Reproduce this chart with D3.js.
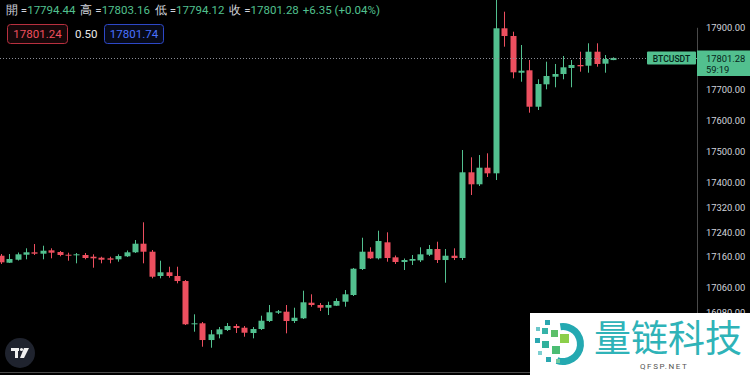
<!DOCTYPE html>
<html>
<head>
<meta charset="utf-8">
<script src="https://cdn.jsdelivr.net/npm/d3@7/dist/d3.min.js"></script>
<style>
  html, body { margin: 0; padding: 0; background: #000; }
  svg { display: block; }
  text { font-family: Roboto, "Noto Sans", sans-serif; }
</style>
</head>
<body>
<script>
// candle values (BTCUSDT), oldest first
const opens  = [17163.7,17141.1,17150.8,17166.9,17174.7,17170.2,17181.1,17175.6,17166.9,17166.0,
                17166.0,17160.5,17157.3,17155.3,17152.1,17161.8,17174.7,17202.4,17176.6,17098.3,
                17110.2,17098.3,17082.1,16942.6,16945.8,16891.9,16910.3,16924.2,16937.1,16931.6,
                16914.5,16927.4,16953.2,16980.0,16983.2,16953.2,16961.9,17012.2,17004.8,16996.1,
                17002.5,17015.4,17037.0,17120.8,17176.6,17155.3,17206.9,17158.5,17143.4,17147.6,
                17148.9,17166.9,17185.3,17149.8,17163.7,17156.3,17432.6,17393.9,17447.4,17429.3,
                17896.8,17871.9,17753.6,17761.4,17644.0,17716.2,17740.7,17749.4,17768.8,17778.5,
                17776.2,17821.3,17782.7,17794.44];
const highs  = [17169.2,17169.2,17174.0,17187.6,17201.4,17195.9,17187.6,17178.9,17173.4,17172.4,
                17172.4,17168.2,17160.5,17160.5,17168.2,17180.5,17214.3,17271.4,17182.1,17147.6,
                17128.2,17128.2,17085.4,16974.8,16950.0,16924.2,16933.8,16946.7,16943.5,16937.1,
                16933.8,16970.3,17004.8,16988.7,17004.8,16996.1,17050.9,17039.3,17011.2,17015.4,
                17026.4,17053.1,17124.1,17221.7,17190.8,17244.3,17239.1,17164.3,17154.7,17166.0,
                17190.8,17198.2,17208.8,17185.3,17187.6,17504.4,17480.9,17488.3,17493.8,17994.0,
                17950.3,17885.8,17842.9,17794.6,17732.4,17789.1,17781.7,17807.5,17794.6,17821.3,
                17848.4,17848.4,17810.7,17803.16];
const lows   = [17136.9,17140.2,17148.2,17152.1,17166.0,17152.1,17155.3,17161.8,17147.6,17139.2,
                17152.1,17125.0,17139.2,17139.2,17144.4,17159.5,17172.4,17139.2,17090.8,17090.8,
                17092.8,17074.7,16940.3,16918.7,16870.3,16867.1,16897.4,16921.0,16914.5,16902.6,
                16897.4,16924.2,16950.0,16975.8,16913.5,16946.7,16959.6,16999.3,16985.4,16972.5,
                17001.5,16999.3,17033.8,17117.6,17153.1,17151.5,17144.4,17137.0,17117.6,17133.7,
                17143.4,17162.7,17140.2,17076.7,17149.8,17149.8,17359.4,17388.4,17417.4,17407.7,
                17837.5,17735.6,17724.6,17624.7,17633.4,17700.1,17706.6,17732.4,17706.6,17756.9,
                17753.6,17773.0,17753.6,17794.12];
const closes = [17142.4,17153.1,17168.2,17174.7,17170.2,17179.8,17173.4,17166.0,17165.0,17168.2,
                17156.3,17155.3,17150.8,17150.8,17162.7,17174.7,17202.4,17176.6,17096.0,17110.2,
                17098.3,17082.1,16942.6,16945.8,16891.9,16910.3,16926.4,16937.1,16930.6,16915.5,
                16927.4,16954.2,16981.3,16984.5,16953.2,16963.8,17013.5,17004.8,16996.1,17004.8,
                17017.7,17039.3,17121.8,17176.6,17155.3,17211.1,17156.3,17143.4,17149.8,17153.1,
                17168.2,17185.3,17149.8,17163.7,17156.3,17432.6,17393.9,17447.4,17429.3,17896.8,
                17871.9,17754.9,17760.1,17644.0,17717.2,17743.0,17749.4,17771.0,17778.5,17774.3,
                17821.3,17781.7,17797.8,17801.28];

// price axis tick values shown on the right
const priceTicks = [18000, 17900, 17700, 17600, 17500, 17400, 17320, 17240, 17160, 17060, 16980];

// legend (OHLC header)
const ohlcLabels = ["開", "高", "低", "收"];
const ohlcValues = ["17794.44", "17803.16", "17794.12", "17801.28"];
const change = "+6.35 (+0.04%)";
const bid = "17801.24", spread = "0.50", ask = "17801.74";
const symbol = "BTCUSDT", countdown = "59:19";

const W = 750, H = 375;
const axisX = 697;
const upColor = "#52c08f", downColor = "#ec4f5f";
const textColor = "#d1d4dc";

const svg = d3.select("body").append("svg")
    .attr("width", W)
    .attr("height", H);

svg.append("rect").attr("width", W).attr("height", H).attr("fill", "#000");

const data = opens.map((o, i) => ({ i, o, h: highs[i], l: lows[i], c: closes[i] }));

// scales
const x = d3.scaleLinear().domain([0, data.length - 1]).range([0.8, 613.3]);
const y = d3.scaleLinear().domain([16980, 17900]).range([312.7, 27.3]);
const bodyW = 6;

const plot = svg.append("g");

// wicks
plot.selectAll("line.wick")
  .data(data)
  .join("line")
    .attr("class", "wick")
    .attr("x1", d => Math.round(x(d.i)) + 0.5)
    .attr("x2", d => Math.round(x(d.i)) + 0.5)
    .attr("y1", d => y(d.h))
    .attr("y2", d => y(d.l))
    .attr("stroke", d => d.c >= d.o ? upColor : downColor)
    .attr("stroke-width", 1);

// bodies
plot.selectAll("rect.body")
  .data(data)
  .join("rect")
    .attr("class", "body")
    .attr("x", d => Math.round(x(d.i)) + 0.5 - bodyW / 2)
    .attr("width", bodyW)
    .attr("y", d => y(Math.max(d.o, d.c)))
    .attr("height", d => Math.max(1, Math.abs(y(d.o) - y(d.c))))
    .attr("fill", d => d.c >= d.o ? upColor : downColor);

// last price dotted line
const lastY = y(closes[closes.length - 1]);
svg.append("line")
    .attr("x1", 0).attr("x2", axisX)
    .attr("y1", Math.round(lastY) + 0.5).attr("y2", Math.round(lastY) + 0.5)
    .attr("stroke", "#8a8d96")
    .attr("stroke-width", 1)
    .attr("stroke-dasharray", "1,2");

// price axis
const axisG = svg.append("g").attr("transform", `translate(${axisX},0)`);
axisG.call(d3.axisRight(y).tickValues(priceTicks).tickSize(0).tickPadding(9).tickFormat(d3.format(".2f")));
axisG.select(".domain").attr("stroke", "#4a4a4a");
axisG.selectAll("text")
    .attr("fill", textColor)
    .style("font-size", "9.4px")
    .style("font-family", "Roboto, sans-serif");

// bottom border
svg.append("line")
    .attr("x1", 0).attr("x2", W)
    .attr("y1", 372.5).attr("y2", 372.5)
    .attr("stroke", "#4a4a4a");

// symbol tag + price label
svg.append("rect")
    .attr("x", 647).attr("y", 51.5).attr("width", 49).attr("height", 13)
    .attr("rx", 1).attr("fill", upColor);
svg.append("text")
    .attr("x", 671.5).attr("y", 61.5)
    .attr("text-anchor", "middle")
    .attr("fill", "#06251a")
    .style("font-size", "8.6px")
    .style("font-weight", "500")
    .text(symbol);
svg.append("rect")
    .attr("x", axisX).attr("y", 50.5).attr("width", W - axisX).attr("height", 25.5)
    .attr("fill", upColor);
svg.append("text")
    .attr("x", 706).attr("y", 62)
    .attr("fill", "#06251a")
    .style("font-size", "9.4px")
    .text(closes[closes.length - 1].toFixed(2));
svg.append("text")
    .attr("x", 706).attr("y", 73)
    .attr("fill", "#06251a")
    .style("font-size", "9.4px")
    .text(countdown);

// OHLC header
const header = svg.append("text").attr("x", 6).attr("y", 14).style("font-size", "11.5px");
ohlcLabels.forEach((lab, k) => {
  header.append("tspan").attr("fill", textColor).attr("dx", k === 0 ? 0 : 5).text(lab + " =");
  header.append("tspan").attr("fill", upColor).text(ohlcValues[k]);
});
header.append("tspan").attr("fill", upColor).attr("dx", 4).text(change);

// bid / spread / ask boxes
svg.append("rect")
    .attr("x", 7.5).attr("y", 24.5).attr("width", 60).attr("height", 19).attr("rx", 3)
    .attr("fill", "#150709").attr("stroke", "#b8303f");
svg.append("text")
    .attr("x", 37.5).attr("y", 38).attr("text-anchor", "middle")
    .attr("fill", "#f0505f").style("font-size", "11.5px").text(bid);
svg.append("text")
    .attr("x", 75).attr("y", 38)
    .attr("fill", "#e8e8e8").style("font-size", "11.5px").text(spread);
svg.append("rect")
    .attr("x", 104.5).attr("y", 24.5).attr("width", 59).attr("height", 19).attr("rx", 3)
    .attr("fill", "#070a18").attr("stroke", "#2d48c8");
svg.append("text")
    .attr("x", 134).attr("y", 38).attr("text-anchor", "middle")
    .attr("fill", "#4a73ff").style("font-size", "11.5px").text(ask);

// TradingView logo (bottom left)
const tv = svg.append("g").attr("transform", "translate(20,353)");
tv.append("circle").attr("r", 15).attr("fill", "#1f232e");
tv.append("rect").attr("x", -9).attr("y", -5).attr("width", 8).attr("height", 3).attr("fill", "#f0f0f0");
tv.append("rect").attr("x", -5).attr("y", -5).attr("width", 3).attr("height", 10).attr("fill", "#f0f0f0");
tv.append("circle").attr("cx", 1.5).attr("cy", -3.5).attr("r", 1.6).attr("fill", "#f0f0f0");
tv.append("path").attr("d", "M4,-5 L9,-5 L4,5 L0,5 Z").attr("fill", "#f0f0f0");

// watermark (bottom right)
const wm = svg.append("g");
wm.append("rect").attr("x", 530).attr("y", 313).attr("width", 220).attr("height", 62).attr("fill", "#ffffff");
const ring = d3.arc().innerRadius(14).outerRadius(21).startAngle(-0.15).endAngle(Math.PI + 0.35);
wm.append("path").attr("transform", "translate(563,344)").attr("d", ring()).attr("fill", "#24a9b1");
const squares = [
  [545, 320, 5, "#2aa7b0"], [536, 327, 4, "#6cc6c9"], [542, 328, 6, "#35b3a8"],
  [551, 330, 7, "#5cbf6a"], [560, 334, 9, "#8ccf4a"], [535, 338, 5, "#2aa7b0"],
  [542, 341, 7, "#2fb19c"], [552, 346, 8, "#4bbd73"], [538, 351, 4, "#7dcfd1"],
  [546, 357, 5, "#2aa7b0"], [556, 359, 4, "#6fc9a0"]
];
wm.selectAll("rect.sq").data(squares).join("rect").attr("class", "sq")
    .attr("x", d => d[0]).attr("y", d => d[1]).attr("width", d => d[2]).attr("height", d => d[2])
    .attr("fill", d => d[3]);
wm.append("text")
    .attr("x", 594).attr("y", 352)
    .attr("fill", "#2fb3b8")
    .style("font-family", "'Noto Sans CJK SC', sans-serif")
    .style("font-size", "37px")
    .text("量链科技");
wm.append("text")
    .attr("x", 640).attr("y", 369)
    .attr("fill", "#555")
    .style("font-size", "8px")
    .style("letter-spacing", "1.6px")
    .text("QFSP.NET");
</script>
</body>
</html>
